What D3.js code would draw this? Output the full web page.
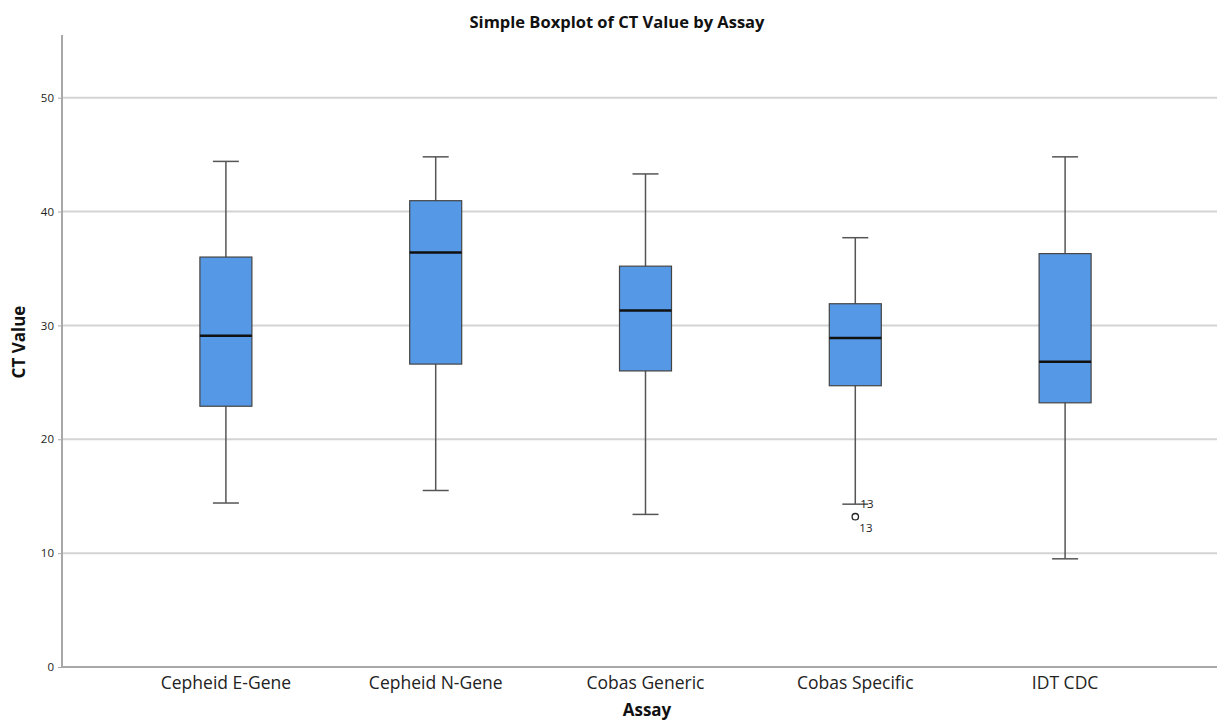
<!DOCTYPE html>
<html>
<head>
<meta charset="utf-8">
<script src="https://cdn.jsdelivr.net/npm/d3@7"></script>
<style>
  body { margin: 0; background: #fff; }
  svg { display: block; font-family: "Open Sans", "DejaVu Sans", sans-serif; }
  .tick text { font-family: "Open Sans", "DejaVu Sans", sans-serif; }
</style>
</head>
<body>
<svg id="chart" width="1217" height="723"></svg>
<script>
// data
const assays = ['Cepheid E-Gene', 'Cepheid N-Gene', 'Cobas Generic', 'Cobas Specific', 'IDT CDC'];
const whiskerLow = [14.4, 15.5, 13.4, 14.3, 9.5];
const q1 = [22.9, 26.6, 26.0, 24.7, 23.2];
const median = [29.1, 36.4, 31.3, 28.9, 26.8];
const q3 = [36.0, 40.95, 35.2, 31.9, 36.3];
const whiskerHigh = [44.4, 44.8, 43.3, 37.7, 44.8];
const outliers = [{assay: 'Cobas Specific', value: 13.2, label: '13'}];
const yTicks = [0, 10, 20, 30, 40, 50];

const svg = d3.select('#chart');
const width = 1217, height = 723;

const y = d3.scaleLinear().domain([0, 55.5]).range([667, 35]);
const x = d3.scaleBand().domain(assays).range([121, 1170]);
const boxW = 52;

// gridlines
svg.append('g').selectAll('line')
  .data(yTicks.filter(d => d > 0))
  .enter().append('line')
  .attr('x1', 62).attr('x2', width)
  .attr('y1', d => y(d)).attr('y2', d => y(d))
  .attr('stroke', '#d4d4d4').attr('stroke-width', 2);

// y axis
const yAxis = svg.append('g')
  .attr('transform', 'translate(62,0)')
  .call(d3.axisLeft(y).tickValues(yTicks).tickSize(4).tickPadding(4));
yAxis.attr('font-family', null);
yAxis.select('.domain').attr('stroke', '#a8a8a8').attr('stroke-width', 2)
  .attr('d', `M0,${y.range()[1]}V${y.range()[0]}`);
yAxis.selectAll('.tick line').attr('stroke', '#a8a8a8');
yAxis.selectAll('.tick text').style('font-size', '11.5px').attr('fill', '#222');

// x axis
const xAxis = svg.append('g')
  .attr('transform', 'translate(0,667)')
  .call(d3.axisBottom(x).tickSize(0).tickPadding(10));
xAxis.attr('font-family', null);
xAxis.select('.domain').attr('stroke', '#a8a8a8').attr('stroke-width', 2)
  .attr('d', `M62,0H${width}`);
xAxis.selectAll('.tick text').style('font-size', '17.5px').attr('fill', '#222');

// boxes
const rows = assays.map((a, i) => ({
  assay: a, lo: whiskerLow[i], q1: q1[i], med: median[i], q3: q3[i], hi: whiskerHigh[i]
}));

const g = svg.append('g').selectAll('g.box')
  .data(rows).enter().append('g').attr('class', 'box')
  .attr('transform', d => `translate(${x(d.assay) + x.bandwidth() / 2},0)`);

g.append('line')
  .attr('x1', 0).attr('x2', 0)
  .attr('y1', d => y(d.hi)).attr('y2', d => y(d.lo))
  .attr('stroke', '#555').attr('stroke-width', 1.5);

g.selectAll('line.cap')
  .data(d => [d.hi, d.lo]).enter().append('line').attr('class', 'cap')
  .attr('x1', -boxW / 4).attr('x2', boxW / 4)
  .attr('y1', d => y(d)).attr('y2', d => y(d))
  .attr('stroke', '#555').attr('stroke-width', 1.5);

g.append('rect')
  .attr('x', -boxW / 2).attr('width', boxW)
  .attr('y', d => y(d.q3)).attr('height', d => y(d.q1) - y(d.q3))
  .attr('fill', '#5598e6').attr('stroke', '#444').attr('stroke-width', 1.2);

g.append('line')
  .attr('x1', -boxW / 2).attr('x2', boxW / 2)
  .attr('y1', d => y(d.med)).attr('y2', d => y(d.med))
  .attr('stroke', '#111').attr('stroke-width', 2.5);

// outliers
const o = svg.append('g').selectAll('g.outlier')
  .data(outliers).enter().append('g')
  .attr('transform', d => `translate(${x(d.assay) + x.bandwidth() / 2},0)`);
o.append('circle')
  .attr('cx', 0).attr('cy', d => y(d.value)).attr('r', 3.2)
  .attr('fill', 'none').attr('stroke', '#222').attr('stroke-width', 1.3);
o.append('text')
  .attr('x', 4).attr('y', d => y(d.value) + 15)
  .style('font-size', '11.5px').attr('fill', '#222')
  .text(d => d.label);
o.append('text')
  .attr('x', 5).attr('y', d => y(whiskerLow[assays.indexOf(d.assay)]) + 4)
  .style('font-size', '11.5px').attr('fill', '#222')
  .text(d => d.label);

// titles
svg.append('text')
  .attr('x', 617).attr('y', 28)
  .attr('text-anchor', 'middle')
  .style('font-size', '16.5px').style('font-weight', 'bold').attr('fill', '#111')
  .text('Simple Boxplot of CT Value by Assay');

svg.append('text')
  .attr('transform', 'translate(25,342) rotate(-90)')
  .attr('text-anchor', 'middle')
  .style('font-size', '17px').style('font-weight', 'bold').attr('fill', '#111')
  .text('CT Value');

svg.append('text')
  .attr('x', 647).attr('y', 716)
  .attr('text-anchor', 'middle')
  .style('font-size', '17px').style('font-weight', 'bold').attr('fill', '#111')
  .text('Assay');
</script>
</body>
</html>
